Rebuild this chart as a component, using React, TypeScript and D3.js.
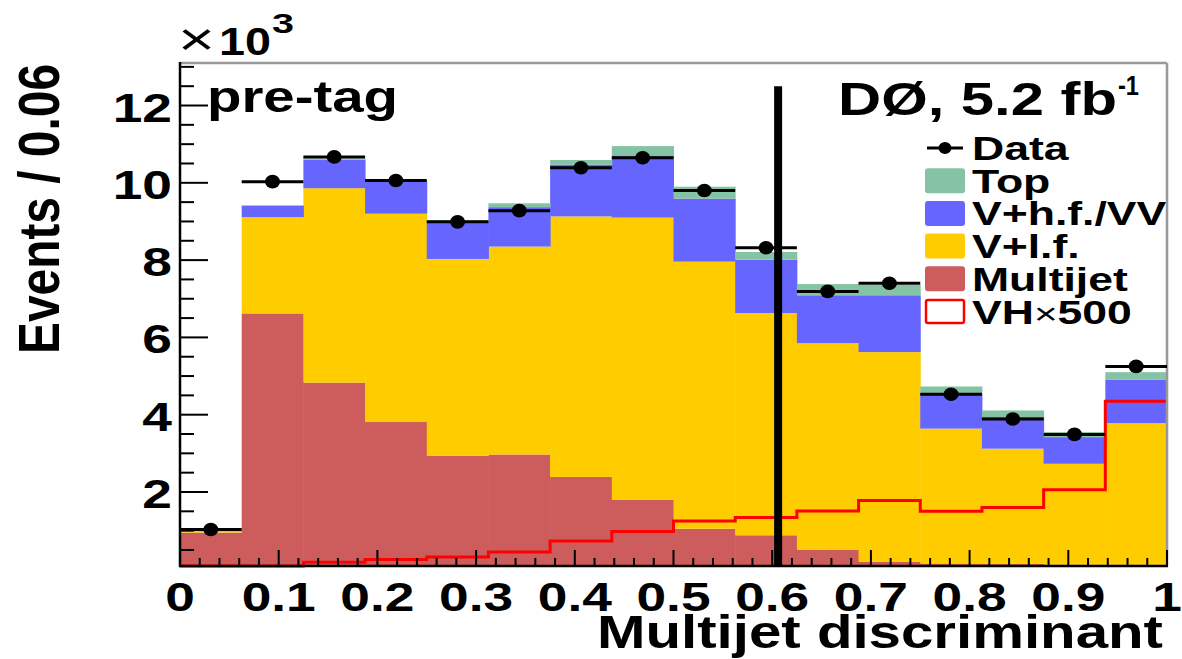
import * as d3 from "d3"
import React from "react"

// bin edges of the multijet discriminant histogram (16 bins)
const binEdges = [0, 0.0625, 0.125, 0.1875, 0.25, 0.3125, 0.375, 0.4375, 0.5, 0.5625, 0.625, 0.6875, 0.75, 0.8125, 0.875, 0.9375, 1]

// events per bin, in units of 10^3
const multijet = [0.95, 6.62, 4.83, 3.81, 2.94, 2.97, 2.39, 1.8, 1.05, 0.88, 0.51, 0.19, 0.15, 0.14, 0.12, 0.12]
const vlf = [0.02, 2.49, 5.03, 5.39, 5.09, 5.38, 6.74, 7.3, 6.91, 5.75, 5.34, 5.43, 3.49, 2.98, 2.61, 3.66]
const vhf = [0.01, 0.29, 0.74, 0.84, 0.97, 1.02, 1.34, 1.61, 1.63, 1.38, 1.24, 1.47, 0.9, 0.82, 0.69, 1.13]
const top = [0.01, 0.02, 0.03, 0.03, 0.03, 0.1, 0.12, 0.24, 0.31, 0.2, 0.29, 0.27, 0.19, 0.17, 0.13, 0.19]
const dataPts = [1.03, 10.03, 10.67, 10.06, 8.99, 9.28, 10.39, 10.65, 9.8, 8.32, 7.19, 7.4, 4.53, 3.89, 3.49, 5.25]
const vh500 = [0.0, 0.03, 0.18, 0.25, 0.32, 0.45, 0.73, 0.98, 1.25, 1.34, 1.51, 1.78, 1.5, 1.6, 2.06, 4.35]

const xTickValues = [0, 0.1, 0.2, 0.3, 0.4, 0.5, 0.6, 0.7, 0.8, 0.9, 1]
const xTickLabels = ["0", "0.1", "0.2", "0.3", "0.4", "0.5", "0.6", "0.7", "0.8", "0.9", "1"]
const yTickValues = [2, 4, 6, 8, 10, 12]
const yTickLabels = ["2", "4", "6", "8", "10", "12"]

const cutValue = 0.606
const cutTop = 12.5

const W = 1182,
  H = 659
const FONT = "'Liberation Sans', Arial, Helvetica, sans-serif"

const layers = [
  { key: "multijet", label: "Multijet", color: "#cd5c5c" },
  { key: "vlf", label: "V+l.f.", color: "#ffcc00" },
  { key: "vhf", label: "V+h.f./VV", color: "#6666ff" },
  { key: "top", label: "Top", color: "#84c4a4" },
]

function Txt({ x, y, sx = 1, size, anchor = "start", children, len, weight = "bold" }: any) {
  return (
    <text
      transform={`translate(${x},${y}) scale(${sx},1)`}
      fontSize={size}
      fontFamily={FONT}
      fontWeight={weight}
      textAnchor={anchor}
      textLength={len}
      lengthAdjust={len ? "spacingAndGlyphs" : undefined}
    >
      {children}
    </text>
  )
}

export default function App() {
  const x = d3.scaleLinear().domain([0, 1]).range([180, 1167])
  const y = d3.scaleLinear().domain([0.085, 13.1]).range([566, 63]).clamp(true)

  const rows = multijet.map((m, i) => ({
    multijet: m,
    vlf: vlf[i],
    vhf: vhf[i],
    top: top[i],
  }))
  const stacked = d3.stack<any>().keys(layers.map((l) => l.key))(rows)

  const vhPoints = vh500.map((v, i) => [binEdges[i], v])
  vhPoints.push([binEdges[binEdges.length - 1], vh500[vh500.length - 1]])
  const vhPath = d3
    .line<number[]>()
    .x((d) => x(d[0]))
    .y((d) => y(d[1]))
    .curve(d3.curveStepAfter)(vhPoints as any)

  const yMinor = d3.range(0.5, 13.01, 0.5).filter((v) => v % 2 !== 0)
  const xMinor = d3.range(0, 1.001, 0.02).filter((v) => Math.abs(v * 10 - Math.round(v * 10)) > 1e-6)

  const legendRow = d3.scaleLinear().domain([0, 1]).range([148, 180.7])
  const legendItems = [
    { label: "Data", kind: "data" },
    { label: "Top", kind: "box", color: "#84c4a4" },
    { label: "V+h.f./VV", kind: "box", color: "#6666ff" },
    { label: "V+l.f.", kind: "box", color: "#ffcc00" },
    { label: "Multijet", kind: "box", color: "#cd5c5c" },
    { label: "VH", suffix: "500", kind: "line", color: "#ff0000" },
  ]

  return (
    <svg width={W} height={H} style={{ position: "absolute", left: 0, top: 0, background: "#fff" }}>
      {/* stacked backgrounds */}
      {stacked.map((layer, li) => (
        <g key={layer.key} fill={layers[li].color}>
          {layer.map((d, i) => (
            <rect
              key={i}
              x={x(binEdges[i])}
              width={x(binEdges[i + 1]) - x(binEdges[i]) + 0.5}
              y={y(d[1])}
              height={Math.max(0, y(d[0]) - y(d[1]))}
            />
          ))}
        </g>
      ))}

      {/* signal x500 */}
      <path d={vhPath} fill="none" stroke="#ff0000" strokeWidth={3} />

      {/* frame */}
      <line x1={180} x2={1167} y1={63} y2={63} stroke="#999" strokeWidth={2.5} />
      <line x1={1167} x2={1167} y1={63} y2={566} stroke="#999" strokeWidth={2.5} />
      <line x1={180} x2={180} y1={62} y2={567} stroke="#000" strokeWidth={2.5} />
      <line x1={179} x2={1168} y1={566} y2={566} stroke="#000" strokeWidth={2.5} />

      {/* y ticks */}
      {yTickValues.map((v) => (
        <line key={"ym" + v} x1={180} x2={208} y1={y(v)} y2={y(v)} stroke="#000" strokeWidth={2} />
      ))}
      {yMinor.map((v) => (
        <line key={"yn" + v} x1={180} x2={194} y1={y(v)} y2={y(v)} stroke="#000" strokeWidth={2} />
      ))}
      {yTickValues.map((v, i) => (
        <Txt key={"yl" + v} x={172} y={y(v) + 16} sx={1.3} size={41} anchor="end">
          {yTickLabels[i]}
        </Txt>
      ))}

      {/* x ticks */}
      {xTickValues.map((v) => (
        <line key={"xm" + v} x1={x(v)} x2={x(v)} y1={566} y2={550} stroke="#000" strokeWidth={2} />
      ))}
      {xMinor.map((v) => (
        <line key={"xn" + v} x1={x(v)} x2={x(v)} y1={566} y2={558} stroke="#000" strokeWidth={2} />
      ))}
      {xTickValues.map((v, i) => (
        <Txt key={"xl" + v} x={x(v)} y={611} sx={1.3} size={41} anchor="middle">
          {xTickLabels[i]}
        </Txt>
      ))}

      {/* data */}
      {dataPts.map((v, i) => (
        <g key={"d" + i}>
          <line
            x1={x(binEdges[i])}
            x2={x(binEdges[i + 1])}
            y1={y(v)}
            y2={y(v)}
            stroke="#000"
            strokeWidth={3}
          />
          <ellipse cx={(x(binEdges[i]) + x(binEdges[i + 1])) / 2} cy={y(v)} rx={7.5} ry={6.8} fill="#000" />
        </g>
      ))}

      {/* cut line */}
      <line x1={x(cutValue)} x2={x(cutValue)} y1={y(cutTop)} y2={566} stroke="#000" strokeWidth={8} />

      {/* labels */}
      <Txt x={178} y={55} size={46} len={37} weight="normal">
        {"\u00d7"}
      </Txt>
      <Txt x={219} y={55} size={38} len={52}>
        10
      </Txt>
      <Txt x={272} y={33} size={27} len={22}>
        3
      </Txt>
      <Txt x={207} y={112} size={44} len={191}>
        pre-tag
      </Txt>
      <Txt x={838} y={115} size={46} len={279}>
        {"D\u00d8, 5.2 fb"}
      </Txt>
      <Txt x={1118} y={95} size={28} len={21}>
        -1
      </Txt>
      <Txt x={597} y={648} size={46} len={566}>
        Multijet discriminant
      </Txt>
      <text
        transform="translate(59,209) scale(1.2,1) rotate(-90)"
        fontSize={48}
        fontFamily={FONT}
        fontWeight="bold"
        textAnchor="middle"
        textLength={290}
        lengthAdjust="spacingAndGlyphs"
      >
        Events / 0.06
      </text>

      {/* legend */}
      {legendItems.map((it, i) => {
        const cy = legendRow(i)
        return (
          <g key={it.label}>
            {it.kind === "data" && (
              <>
                <line x1={927} x2={963} y1={cy} y2={cy} stroke="#000" strokeWidth={3} />
                <ellipse cx={945} cy={cy} rx={6.5} ry={6} fill="#000" />
              </>
            )}
            {it.kind === "box" && <rect x={925} y={cy - 12.5} width={40} height={25} rx={3} fill={it.color} />}
            {it.kind === "line" && (
              <rect x={926} y={cy - 11.5} width={38} height={23} rx={2} fill="#fff" stroke={it.color} strokeWidth={2.5} />
            )}
            <Txt x={972} y={cy + 12} sx={1.35} size={33}>
              {it.label}
              {it.suffix && (
                <>
                  <tspan fontWeight="normal" fontSize={30}>
                    {"\u00d7"}
                  </tspan>
                  {it.suffix}
                </>
              )}
            </Txt>
          </g>
        )
      })}
    </svg>
  )
}
